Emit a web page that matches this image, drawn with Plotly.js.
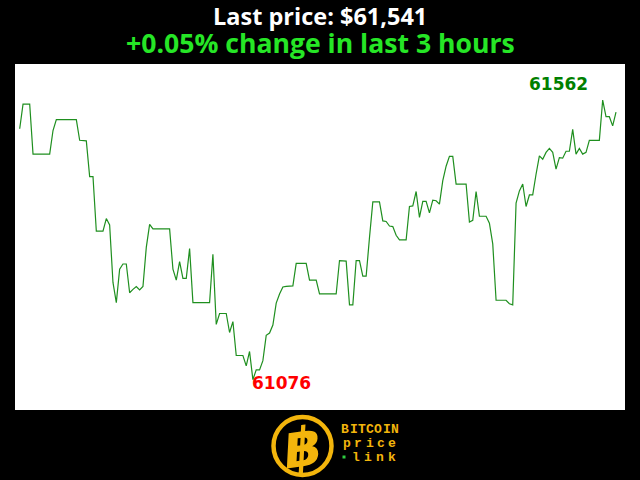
<!DOCTYPE html>
<html>
<head>
<meta charset="utf-8">
<script src="https://cdn.plot.ly/plotly-3.0.1.min.js"></script>
<style>html,body{margin:0;padding:0;background:#000;}#chart{width:640px;height:480px;}</style>
</head>
<body>
<div id="chart"></div>
<script>
// Price per minute over the last 3 hours (USD)
const prices = [
61512,61555,61555,61555,61468,61468,61468,61468,61468,61468,
61509,61528,61528,61528,61528,61528,61528,61528,61492,61492,
61491,61429,61429,61334,61334,61334,61356,61345,61245,61210,
61268,61277,61277,61227,61233,61238,61232,61238,61306,61346,
61338,61338,61338,61338,61338,61338,61268,61249,61281,61252,
61252,61304,61210,61210,61210,61210,61210,61210,61294,61172,
61191,61191,61191,61158,61177,61118,61118,61118,61100,61125,
61076,61093,61093,61109,61153,61157,61171,61209,61225,61237,
61238,61239,61239,61278,61278,61278,61278,61249,61249,61249,
61225,61225,61225,61225,61225,61225,61283,61282,61282,61206,
61206,61283,61283,61256,61256,61323,61385,61385,61385,61352,
61351,61343,61342,61327,61319,61319,61319,61377,61378,61403,
61358,61386,61386,61366,61388,61387,61381,61422,61447,61464,
61464,61416,61416,61416,61416,61350,61353,61403,61360,61360,
61360,61348,61312,61214,61214,61214,61214,61208,61206,61383,
61404,61416,61377,61397,61397,61433,61465,61459,61471,61478,
61471,61442,61462,61461,61473,61473,61511,61468,61478,61468,
61471,61492,61492,61492,61492,61562,61533,61533,61517,61541
];
const minutes = prices.map((_, i) => i);

const titleLine1 = "Last price: $61,541";
const titleLine2 = "+0.05% change in last 3 hours";
const maxLabel = "61562";
const minLabel = "61076";
const logoWord1 = "BITCOIN";
const logoWord2 = "price";
const logoWord3 = "link";

// plot area in pixels: x 15..625, y 64..410
const L = 15, R = 625, T = 64, B = 410;
const px = x => (x - L) / (R - L);
const py = y => (B - y) / (B - T);

const gold = '#f3b50c';
const annotations = [
  {xref:'paper', yref:'paper', x:0.5, y:py(16), xanchor:'center', yanchor:'middle', showarrow:false,
   text:titleLine1, font:{family:'Open Sans', size:23.5, color:'#ffffff', weight:'bold'}},
  {xref:'paper', yref:'paper', x:0.5, y:py(43), xanchor:'center', yanchor:'middle', showarrow:false,
   text:titleLine2, font:{family:'Open Sans', size:26.6, color:'#26e626', weight:'bold'}},
  {xref:'x', yref:'y', x:161.6, y:61590, xanchor:'center', yanchor:'middle', showarrow:false,
   text:maxLabel, font:{family:'DejaVu Sans', size:17, color:'#008000', weight:'bold'}},
  {xref:'x', yref:'y', x:70, y:61076, xanchor:'left', yanchor:'middle', yshift:-3, xshift:-3, showarrow:false,
   text:minLabel, font:{family:'DejaVu Sans', size:17, color:'#ff0000', weight:'bold'}},
  {xref:'paper', yref:'paper', x:px(303), y:py(447), xanchor:'center', yanchor:'middle', showarrow:false,
   text:'\u0E3F', textangle:-8, font:{family:'DejaVu Sans', size:54, color:gold, weight:'bold', style:'italic'}}
];
function addWord(word, x0, pitch, yc) {
  for (let k = 0; k < word.length; k++) {
    annotations.push({xref:'paper', yref:'paper', x:px(x0 + k*pitch), y:py(yc), xanchor:'center', yanchor:'middle',
      showarrow:false, text:word[k], font:{family:'Liberation Mono', size:13, color:gold, weight:'bold'}});
  }
}
addWord(logoWord1, 345.2, 8.3, 429);
addWord(logoWord2, 346.7, 11.4, 443);
addWord(logoWord3, 355.5, 12.3, 457);

const shapes = [
  {type:'circle', xref:'paper', yref:'paper', x0:px(273.5), x1:px(331.5), y0:py(475), y1:py(417),
   line:{color:gold, width:4.5}, fillcolor:'#000000'},
  {type:'rect', xref:'paper', yref:'paper', x0:px(342.5), x1:px(345.5), y0:py(458.5), y1:py(455.5),
   line:{width:0}, fillcolor:'#2ecc40'}
];

const trace = {
  x: minutes, y: prices, type:'scatter', mode:'lines',
  line:{color:'#1f8f1f', width:1.2}, hoverinfo:'skip'
};

const layout = {
  width:640, height:480,
  paper_bgcolor:'#000000', plot_bgcolor:'#ffffff',
  margin:{l:L, r:640-R, t:T, b:480-B, pad:0},
  showlegend:false,
  xaxis:{range:[-1.41, 181.7], visible:false, fixedrange:true},
  yaxis:{range:[61023.3, 61624.6], visible:false, fixedrange:true},
  annotations: annotations,
  shapes: shapes
};

Plotly.newPlot('chart', [trace], layout, {staticPlot:true, displayModeBar:false});
</script>
</body>
</html>
